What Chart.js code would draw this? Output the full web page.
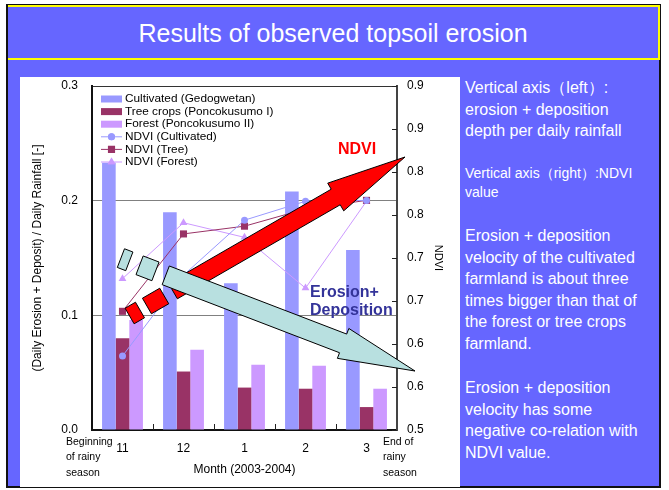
<!DOCTYPE html>
<html>
<head>
<meta charset="utf-8">
<script src="https://cdn.jsdelivr.net/npm/chart.js@4.4.0/dist/chart.umd.min.js"></script>
<style>
  body { margin: 0; width: 669px; height: 490px; overflow: hidden; background: #fff;
         font-family: Arial, "Liberation Sans", sans-serif; }
  #slide { position: absolute; left: 6px; top: 4px; width: 651px; height: 480px;
           background: #6666ff; border: 2px solid #111; }
  #title { position: absolute; left: 8px; top: 5px; width: 650px; height: 51px;
           border: 2px solid #ffff00; border-left: none;
           color: #fff; font-size: 25px; text-align: center; line-height: 53px; }
  #panel { position: absolute; left: 20px; top: 77px; width: 440px; height: 410px; background: #fff; }
  #panel canvas { display: block; }
  .note { position: absolute; left: 465px; color: #fff; white-space: nowrap; }
  .big { font-size: 16px; line-height: 21.6px; }
  .small { font-size: 14px; line-height: 19px; }
</style>
</head>
<body>
<div id="slide"></div>
<div id="title">Results of observed topsoil erosion</div>
<div id="panel"><canvas id="chart" width="440" height="410"></canvas></div>
<div class="note big" style="top:77px">Vertical axis（left）:<br>erosion + deposition<br>depth per daily rainfall</div>
<div class="note small" style="top:164px">Vertical axis（right）:NDVI<br>value</div>
<div class="note big" style="top:225px">Erosion + deposition<br>velocity of the cultivated<br>farmland is about three<br>times bigger than that of<br>the forest or tree crops<br>farmland.</div>
<div class="note big" style="top:377px">Erosion + deposition<br>velocity has some<br>negative co-relation with<br>NDVI value.</div>

<script>
const months = ["11", "12", "1", "2", "3"];

// (daily erosion + deposit) / daily rainfall, left axis
const erosionCultivated = [0.233, 0.190, 0.128, 0.208, 0.157];
const erosionTree = [0.080, 0.051, 0.037, 0.036, 0.020];
const erosionForest = [0.096, 0.070, 0.057, 0.056, 0.036];

// NDVI, right axis
const ndviCultivated = [0.586, 0.680, 0.744, 0.766, 0.767];
const ndviTree = [0.638, 0.728, 0.737, 0.757, 0.767];
const ndviForest = [0.676, 0.741, 0.724, 0.665, 0.766];

const leftTicks = [0, 0.1, 0.2, 0.3];
const leftTickLabels = ["0.0", "0.1", "0.2", "0.3"];
const rightTicks = [0.5, 0.55, 0.6, 0.65, 0.7, 0.75, 0.8, 0.85, 0.9];
const rightTickLabels = ["0.5", "0.6", "0.6", "0.7", "0.7", "0.8", "0.8", "0.9", "0.9"];

const FONT = 'Arial, "Liberation Sans", sans-serif';
const colCult = "#9999ff", colTree = "#993366", colForest = "#cc99ff";

const legendItems = [
  { text: "Cultivated (Gedogwetan)", type: "bar", color: colCult },
  { text: "Tree crops (Poncokusumo I)", type: "bar", color: colTree },
  { text: "Forest (Poncokusumo II)", type: "bar", color: colForest },
  { text: "NDVI (Cultivated)", type: "line", color: colCult, style: "circle", r: 3.5 },
  { text: "NDVI (Tree)", type: "line", color: colTree, style: "rect", r: 5 },
  { text: "NDVI (Forest)", type: "line", color: colForest, style: "triangle", r: 4.5 },
];

// block arrow along an axis ending at tip; s = distance back from the tip
function arrowPath(ctx, tip, ang, pts) {
  const dx = Math.cos(ang), dy = Math.sin(ang);
  ctx.beginPath();
  pts.forEach(([s, w], i) => {
    const px = tip[0] - dx * s - dy * w, py = tip[1] - dy * s + dx * w;
    if (i === 0) ctx.moveTo(px, py); else ctx.lineTo(px, py);
  });
  ctx.closePath();
  ctx.fill();
  ctx.stroke();
}

function drawArrow(ctx, a, fill) {
  ctx.fillStyle = fill;
  ctx.strokeStyle = "#000";
  ctx.lineWidth = 1;
  const h = a.shaft / 2;
  a.dashes.forEach(([s0, s1]) => arrowPath(ctx, a.tip, a.ang, [[s0, -h], [s1, -h], [s1, h], [s0, h]]));
  arrowPath(ctx, a.tip, a.ang, [
    [a.tail, -h], [a.headLen, -h], [a.headLen, -a.head / 2], [0, 0],
    [a.headLen, a.head / 2], [a.headLen, h], [a.tail, h],
  ]);
}

const overlay = {
  id: "overlay",
  afterDatasetsDraw(chart) {
    const { ctx, chartArea: area, scales: { x, y1 } } = chart;
    ctx.save();

    // inward tick marks
    ctx.strokeStyle = "#222";
    ctx.lineWidth = 1;
    ctx.beginPath();
    for (let i = 1; i < months.length; i++) {
      const px = Math.round((x.getPixelForTick(i - 1) + x.getPixelForTick(i)) / 2) + 0.5;
      ctx.moveTo(px, area.bottom);
      ctx.lineTo(px, area.bottom - 6);
    }
    rightTicks.forEach((v) => {
      const py = Math.round(y1.getPixelForValue(v)) + 0.5;
      ctx.moveTo(area.right, py);
      ctx.lineTo(area.right - 5, py);
    });
    ctx.stroke();

    // NDVI (up) and erosion (down) trend arrows
    drawArrow(ctx, { tip: [area.left + 313, area.top + 71], ang: -Math.PI / 6, shaft: 18, head: 32,
      headLen: 80, tail: 268, dashes: [[278, 298], [306, 318]] }, "#ff0000");
    drawArrow(ctx, { tip: [area.left + 323, area.top + 285], ang: 21 * Math.PI / 180, shaft: 20, head: 32,
      headLen: 77, tail: 267, dashes: [[278, 295], [306, 315]] }, "#b8e0e0");

    ctx.textBaseline = "middle";
    ctx.textAlign = "center";
    ctx.fillStyle = "#ff0000";
    ctx.font = "bold 16px " + FONT;
    ctx.fillText("NDVI", area.left + 265, area.top + 64);

    ctx.textAlign = "left";
    ctx.fillStyle = "#333399";
    ctx.font = "bold 16px " + FONT;
    ctx.fillText("Erosion+", area.left + 218, area.top + 207);
    ctx.fillText("Deposition", area.left + 218, area.top + 225);

    // season notes under the axis
    ctx.fillStyle = "#000";
    ctx.font = "10.5px " + FONT;
    ["Beginning", "of rainy", "season"].forEach((t, i) => ctx.fillText(t, area.left - 26, area.bottom + 12 + i * 15.5));
    ["End of", "rainy", "season"].forEach((t, i) => ctx.fillText(t, area.right - 14, area.bottom + 12 + i * 15.5));

    // legend
    ctx.font = "11.8px " + FONT;
    legendItems.forEach((it, i) => {
      const cy = area.top + 13 + i * 12.6;
      const x0 = area.left + 9, x1 = area.left + 30;
      ctx.fillStyle = it.color;
      if (it.type === "bar") {
        ctx.fillRect(x0, cy - 3.5, x1 - x0, 7);
      } else {
        ctx.strokeStyle = it.color;
        ctx.lineWidth = 1;
        ctx.beginPath();
        ctx.moveTo(x0, cy);
        ctx.lineTo(x1, cy);
        ctx.stroke();
        Chart.helpers.drawPoint(ctx, { pointStyle: it.style, radius: it.r, borderWidth: 0, rotation: 0 }, (x0 + x1) / 2, cy);
        ctx.fill();
      }
      ctx.fillStyle = "#000";
      ctx.fillText(it.text, area.left + 33, cy);
    });
    ctx.restore();
  },
};

const lineDs = (label, data, color, style, r) => ({
  type: "line", label, data, yAxisID: "y1", order: 1,
  borderColor: color, backgroundColor: color, borderWidth: 1,
  pointStyle: style, pointRadius: r, pointBorderWidth: 0, tension: 0,
});

const barDs = (label, data, color) => ({
  type: "bar", label, data, yAxisID: "y", order: 2,
  backgroundColor: color, borderWidth: 0,
  categoryPercentage: 0.67, barPercentage: 1.0,
});

new Chart(document.getElementById("chart").getContext("2d"), {
  data: {
    labels: months,
    datasets: [
      barDs("Cultivated (Gedogwetan)", erosionCultivated, colCult),
      barDs("Tree crops (Poncokusumo I)", erosionTree, colTree),
      barDs("Forest (Poncokusumo II)", erosionForest, colForest),
      lineDs("NDVI (Cultivated)", ndviCultivated, colCult, "circle", 3.5),
      lineDs("NDVI (Tree)", ndviTree, colTree, "rect", 5),
      lineDs("NDVI (Forest)", ndviForest, colForest, "triangle", 4.5),
    ],
  },
  options: {
    responsive: false,
    animation: false,
    layout: { padding: { top: 9, left: 0, right: 0, bottom: 0 } },
    plugins: { legend: { display: false }, tooltip: { enabled: false } },
    scales: {
      x: {
        grid: { display: false, drawTicks: false },
        border: { color: "#111", width: 2 },
        ticks: { color: "#000", font: { family: FONT, size: 12 }, padding: 11 },
        title: { display: true, text: "Month (2003-2004)", color: "#000",
                 font: { family: FONT, size: 12 }, padding: { top: 0, bottom: 10 } },
        afterFit: (s) => { s.height = 57; s.paddingLeft = 0; s.paddingRight = 0; },
      },
      y: {
        position: "left",
        min: 0, max: 0.3,
        afterBuildTicks: (s) => { s.ticks = leftTicks.map((v) => ({ value: v })); },
        ticks: { color: "#000", font: { family: FONT, size: 12 }, padding: 14,
                 callback: (v, i) => leftTickLabels[i] },
        grid: { drawTicks: false, lineWidth: 1,
                color: (c) => c.tick && c.tick.value === 0.3 ? "#333" : (c.tick && c.tick.value === 0 ? "rgba(0,0,0,0)" : "#808080") },
        border: { color: "#111", width: 2 },
        title: { display: true, text: "(Daily Erosion + Deposit) / Daily Rainfall [-]", color: "#000",
                 font: { family: FONT, size: 12 }, padding: { top: 10, bottom: 0 } },
        afterFit: (s) => { s.width = 72; s.paddingTop = 0; s.paddingBottom = 0; },
      },
      y1: {
        position: "right",
        min: 0.5, max: 0.9,
        afterBuildTicks: (s) => { s.ticks = rightTicks.map((v) => ({ value: v })); },
        ticks: { color: "#000", font: { family: FONT, size: 12 }, padding: 10,
                 callback: (v, i) => rightTickLabels[i] },
        grid: { display: false, drawTicks: false },
        border: { color: "#444", width: 2 },
        title: { display: true, text: "NDVI", color: "#000",
                 font: { family: FONT, size: 11 }, padding: { top: 15, bottom: 0 } },
        afterFit: (s) => { s.width = 63; s.paddingTop = 0; s.paddingBottom = 0; },
      },
    },
  },
  plugins: [overlay],
});
</script>
</body>
</html>
